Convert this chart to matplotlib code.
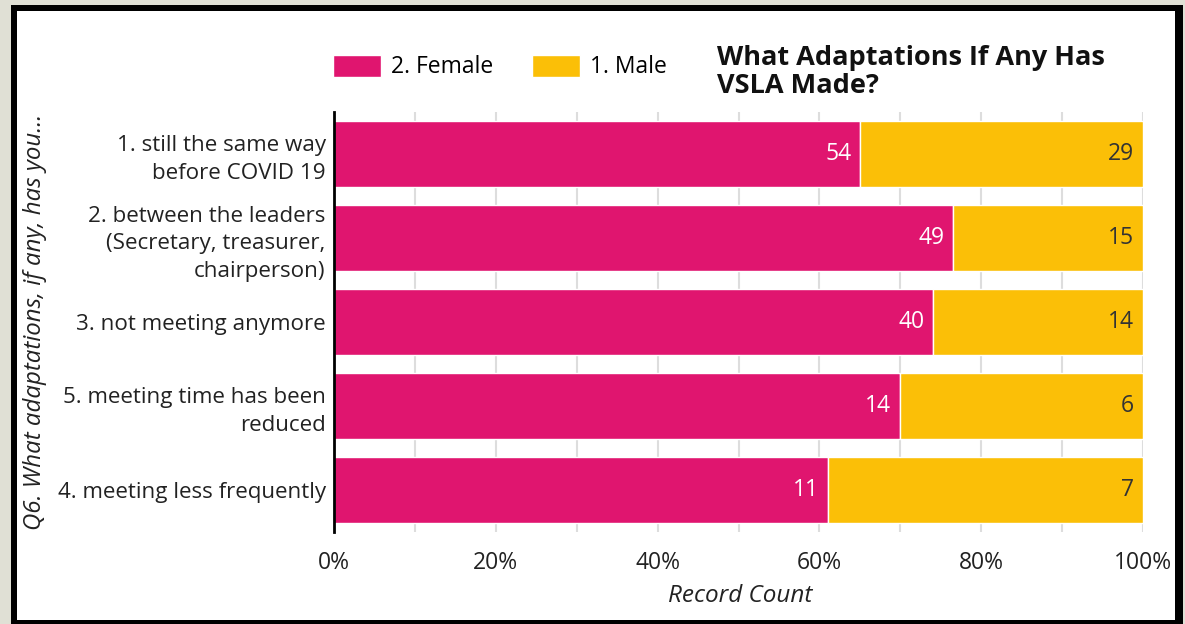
import matplotlib
matplotlib.use("Agg")
import matplotlib.pyplot as plt
from matplotlib.patches import Rectangle
import numpy as np

categories = [
    "1. still the same way\nbefore COVID 19",
    "2. between the leaders\n(Secretary, treasurer,\nchairperson)",
    "3. not meeting anymore",
    "5. meeting time has been\nreduced",
    "4. meeting less frequently",
]
female = [54, 49, 40, 14, 11]
male = [29, 15, 14, 6, 7]
xtick_labels = ["0%", "20%", "40%", "60%", "80%", "100%"]

pink = "#e0156f"
yellow = "#fbbf07"

plt.rcParams['font.family'] = ['Open Sans', 'DejaVu Sans']
fs = 16.5

W, H = 1185, 624
fig = plt.figure(figsize=(W / 100, H / 100), dpi=100)
fig.patch.set_facecolor("#e0e0d5")


def px_rect(x0, y0, x1, y1, color):
    fig.patches.append(Rectangle((x0 / W, 1 - y1 / H), (x1 - x0) / W, (y1 - y0) / H,
                                 transform=fig.transFigure, facecolor=color,
                                 edgecolor="none", zorder=-2))


px_rect(11, 5, 1183, 626, "black")
px_rect(17, 11, 1175, 620, "white")

ax = fig.add_axes([334 / W, 1 - 532 / H, (1143 - 334) / W, (532 - 112) / H])
ax.set_facecolor("none")
ax.set_zorder(2)

fem = np.array(female, dtype=float)
mal = np.array(male, dtype=float)
tot = fem + mal
fp = fem / tot
mp = mal / tot
y = np.arange(len(categories))

ax.barh(y, fp, height=0.79, color=pink, edgecolor="white", linewidth=1, zorder=3,
        label="2. Female")
ax.barh(y, mp, left=fp, height=0.79, color=yellow, edgecolor="white", linewidth=1,
        zorder=3, label="1. Male")

for i in range(len(categories)):
    ax.annotate(str(female[i]), (fp[i], y[i]), xytext=(-9, 0), textcoords="offset pixels",
                ha="right", va="center", color="white", fontsize=fs, zorder=4)
    ax.annotate(str(male[i]), (1.0, y[i]), xytext=(-9, 0), textcoords="offset pixels",
                ha="right", va="center", color="#333333", fontsize=fs, zorder=4)

ax.set_xlim(0, 1)
ax.set_ylim(len(categories) - 0.5, -0.5)
ax.set_xticks(np.linspace(0, 1, 6))
ax.set_xticklabels(xtick_labels, fontsize=fs, color="#222222")
ax.set_xticks(np.linspace(0.1, 0.9, 5), minor=True)
ax.tick_params(axis="x", which="both", length=0, pad=14)
ax.grid(axis="x", which="both", color="#dddddd", linewidth=1.5, zorder=0)
ax.set_yticks(y)
ax.set_yticklabels(categories, fontsize=16.1, color="#222222", linespacing=1.42)
ax.tick_params(axis="y", length=0, pad=6)
for s in ["top", "right", "bottom"]:
    ax.spines[s].set_visible(False)
ax.spines["left"].set_linewidth(2)
ax.spines["left"].set_color("black")
ax.spines["left"].set_zorder(5)

fig.text(740 / W, 1 - 596 / H, "Record Count", ha="center", va="center",
         fontsize=17.5, style="italic", color="#222222")
fig.text(35 / W, 1 - 322 / H, "Q6. What adaptations, if any, has you...", ha="center",
         va="center", rotation=90, fontsize=17.3, style="italic", color="#222222")

fig.text(717 / W, 1 - 72 / H, "What Adaptations If Any Has\nVSLA Made?", ha="left",
         va="center", fontsize=19.5, fontweight="bold", color="#111111", linespacing=1.1)

fig.legend(loc="center left", bbox_to_anchor=(333 / W, 1 - 67 / H), ncol=2, frameon=False,
           fontsize=fs, handlelength=2.1, handleheight=1.1, columnspacing=1.65,
           handletextpad=0.45, borderaxespad=0, borderpad=0)

fig.savefig("out.png", dpi=100, facecolor=fig.get_facecolor())
